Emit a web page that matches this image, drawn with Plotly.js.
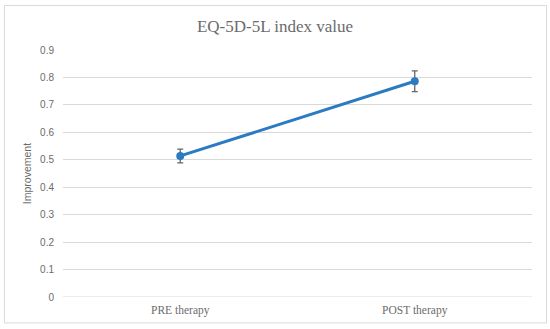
<!DOCTYPE html>
<html>
<head>
<meta charset="utf-8">
<script src="https://cdn.plot.ly/plotly-3.0.1.min.js"></script>
<style>html,body{margin:0;padding:0;background:#fff;}#chart{width:550px;height:329px;}</style>
</head>
<body>
<div id="chart"></div>
<script>
const categories = ["PRE therapy", "POST therapy"];
const values = [0.514, 0.786];
const errors = [0.025, 0.038];
const yTicks = [0, 0.1, 0.2, 0.3, 0.4, 0.5, 0.6, 0.7, 0.8, 0.9];
const yTickLabels = ["0", "0.1", "0.2", "0.3", "0.4", "0.5", "0.6", "0.7", "0.8", "0.9"];

const trace = {
  x: categories,
  y: values,
  type: "scatter",
  mode: "lines+markers",
  line: {color: "#2A7BC1", width: 3},
  marker: {color: "#2A7BC1", size: 8},
  error_y: {type: "data", array: errors, visible: true, color: "#666666", thickness: 1.3, width: 3},
  hoverinfo: "skip"
};

const layout = {
  width: 550, height: 329,
  margin: {l: 63, r: 18, t: 50, b: 32},
  paper_bgcolor: "#ffffff",
  plot_bgcolor: "#ffffff",
  showlegend: false,
  title: {text: "EQ-5D-5L index value", font: {family: "Liberation Serif, Times New Roman, serif", size: 17, color: "#6b6b6b"}, x: 0.5, xanchor: "center", y: 0.92, yanchor: "middle"},
  xaxis: {
    type: "category",
    range: [-0.5, 1.5],
    showgrid: false, zeroline: false, showline: false,
    ticks: "",
    ticklabelstandoff: 4,
    tickfont: {family: "Liberation Serif, Times New Roman, serif", size: 11.5, color: "#6b6b6b"},
    fixedrange: true
  },
  yaxis: {
    range: [0, 0.9],
    tickvals: yTicks, ticktext: yTickLabels,
    showgrid: true, gridcolor: "#d9d9d9", gridwidth: 1,
    zeroline: false, showline: false, ticks: "",
    ticklabelstandoff: 8,
    tickfont: {family: "Liberation Sans, Arial, sans-serif", size: 10, color: "#6b6b6b"},
    title: {text: "Improvement", font: {family: "Liberation Sans, Arial, sans-serif", size: 10.5, color: "#6b6b6b"}, standoff: 6},
    fixedrange: true
  },
  shapes: [
    {type: "line", xref: "paper", yref: "y", x0: 0, x1: 1, y0: 0, y1: 0, line: {color: "#d9d9d9", width: 1}, layer: "below"},
    {type: "rect", xref: "paper", yref: "paper", x0: -0.125, x1: 1.031, y0: -0.105, y1: 1.18, line: {color: "#d9d9d9", width: 1}}
  ]
};

Plotly.newPlot("chart", [trace], layout, {displayModeBar: false, staticPlot: true});
</script>
</body>
</html>
